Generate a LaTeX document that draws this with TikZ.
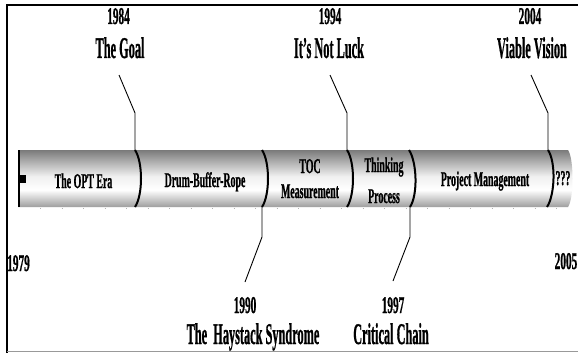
\documentclass[tikz,border=0pt]{standalone}
\usepackage{fontspec}
\setmainfont{Liberation Serif}[BoldFeatures={FakeBold=1.2}]
\pgfdeclareverticalshading{tube}{100bp}{color(0bp)=(black!38); color(25bp)=(black!38); color(40bp)=(white); color(52bp)=(black!6); color(75bp)=(black!52); color(100bp)=(black!52)}
\newcommand\yr[1]{\scalebox{0.47}[1]{\fontsize{24}{28}\selectfont\bfseries #1}}
\newcommand\ttl[1]{\scalebox{0.41}[1]{\fontsize{30}{34}\selectfont\bfseries #1}}
\newcommand\tb[1]{\scalebox{0.47}[1]{\fontsize{21}{25}\selectfont\bfseries #1}}
\newcommand\tbb[3]{\scalebox{0.47}[1]{\fontsize{21}{25}\selectfont\bfseries\begin{tabular}[b]{@{}c@{}}#1\\[#3]#2\end{tabular}}}
\begin{document}
\begin{tikzpicture}[x=1pt,y=-1pt,
  conn/.style={black, line width=0.9pt},
  divider/.style={black, line width=2pt},
  lbl/.style={inner sep=0pt, anchor=base}]
\useasboundingbox (0,0) rectangle (578,353);
\fill[white] (0,0) rectangle (578,353);
% frame
\draw[black, line width=1.7pt] (7,353) -- (7,5) -- (578,5);
\draw[black!40, line width=1pt] (7,351.5) -- (578,351.5);
% tube
\shade[shading=tube] (18,150) -- (568,150) .. controls (574,158) and (574,199) .. (568,207) -- (18,207) -- cycle;
\draw[black!30, line width=0.8pt, dash pattern=on 1pt off 20.5pt] (40,208.5) -- (560,208.5);
% left end
\draw[black, line width=2pt] (19,150) -- (19,207);
\fill[black] (18,175) rectangle (25.5,182.5);
% dividers
\coordinate (d1t) at (135,150); \coordinate (d1b) at (135,207);
\coordinate (d2t) at (262,150); \coordinate (d2b) at (262,207);
\coordinate (d3t) at (347,150); \coordinate (d3b) at (347,207);
\coordinate (d4t) at (409,150); \coordinate (d4b) at (410,207);
\coordinate (d5t) at (548,150); \coordinate (d5b) at (547,207);
\foreach \i in {1,...,5}{
  \draw[divider] (d\i t) .. controls +(8,12) and +(8,-12) .. (d\i b);
}
% tube texts
\node[lbl] (opt) at (83.5,188) {\tb{The OPT Era}};
\node[lbl] (dbr) at (205,187) {\tb{Drum-Buffer-Rope}};
\node[lbl] (tocm) at (310,198) {\tbb{TOC}{Measurement}{0pt}};
\node[lbl] (tp) at (384,203) {\tbb{Thinking}{Process}{6pt}};
\node[lbl] (pm) at (485,186) {\tb{Project Management}};
\node[lbl] (qq) at (563,185) {\tb{???}};
% top labels
\node[lbl] (y1984) at (118.5,24) {\yr{1984}};
\node[lbl] (goal) at (120,58) {\ttl{The Goal}};
\node[lbl] (y1994) at (330,24) {\yr{1994}};
\node[lbl] (luck) at (329,58) {\ttl{It's Not Luck}};
\node[lbl] (y2004) at (530,24) {\yr{2004}};
\node[lbl] (vv) at (532,58) {\ttl{Viable Vision}};
% bottom labels
\node[lbl] (y1990) at (245,313) {\yr{1990}};
\node[lbl] (hay) at (253,344) {\ttl{The\ \ Haystack Syndrome}};
\node[lbl] (y1997) at (393,313) {\yr{1997}};
\node[lbl] (cc) at (391,344) {\ttl{Critical Chain}};
\node[lbl] (y1979) at (18.5,271) {\yr{1979}};
\node[lbl] (y2005) at (566,269) {\yr{2005}};
% connectors
\coordinate (s1) at (119,75); \coordinate (k1) at (135,113);
\coordinate (s3) at (330,75); \coordinate (k3) at (347,113);
\coordinate (s5) at (531,75); \coordinate (k5) at (548,113);
\coordinate (k2) at (262,237); \coordinate (s2) at (245,282);
\coordinate (k4) at (410,237); \coordinate (s4) at (393,281);
\draw[conn] (s1) -- (k1) -- (d1t);
\draw[conn] (s3) -- (k3) -- (d3t);
\draw[conn] (s5) -- (k5) -- (d5t);
\draw[conn] (d2b) -- (k2) -- (s2);
\draw[conn] (d4b) -- (k4) -- (s4);
\end{tikzpicture}
\end{document}
